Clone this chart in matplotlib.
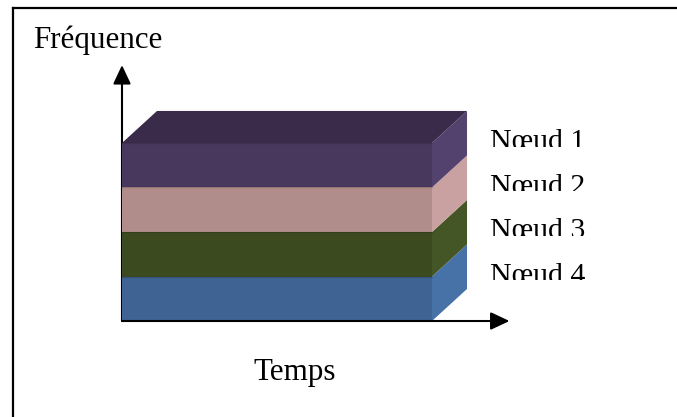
import matplotlib
matplotlib.use("Agg")
import matplotlib.pyplot as plt
from matplotlib.patches import Polygon, Rectangle
from matplotlib.lines import Line2D
from matplotlib.transforms import Bbox, TransformedBbox

# frequency bands shared by the nodes over time (top to bottom)
nodes = ["Nœud 1", "Nœud 2", "Nœud 3", "Nœud 4"]
band_height = [1, 1, 1, 1]
front_colors = ["#48385e", "#b08c8a", "#3c4a20", "#3f6393"]
side_colors = ["#54426e", "#c9a1a0", "#455626", "#4672a8"]
top_color = "#3b2b4a"
t_end = 10

# 3d depth of the slabs
dx, dy = 1.13, 0.72

plt.rcParams["font.family"] = ["Liberation Serif", "DejaVu Serif"]

fig = plt.figure(figsize=(6.77, 4.17), dpi=100)
ax = fig.add_axes([0.1802, 0.2302, 0.4579, 0.4269])
ax.set_xlim(0, t_end)
ax.set_ylim(0, sum(band_height))
ax.axis("off")

# vertical axis (behind the slabs)
ax.annotate("", xy=(0, 5.75), xytext=(0, 0),
            arrowprops=dict(arrowstyle="-|>,head_length=1.15,head_width=0.54",
                            mutation_scale=10, lw=1.5, color="black",
                            shrinkA=0, shrinkB=0),
            annotation_clip=False, zorder=1)

# stack from the bottom band upwards
y0 = 0
order = list(range(len(nodes)))[::-1]
for i in order:
    y1 = y0 + band_height[i]
    side = Polygon([(t_end, y0), (t_end + dx, y0 + dy), (t_end + dx, y1 + dy), (t_end, y1)],
                   closed=True, facecolor=side_colors[i], edgecolor="none",
                   clip_on=False, zorder=2)
    ax.add_patch(side)
    front = Rectangle((0, y0), t_end, band_height[i], facecolor=front_colors[i],
                      edgecolor=front_colors[i], lw=0, clip_on=False, zorder=3)
    ax.add_patch(front)
    ax.plot([0, t_end], [y1, y1], color="black", alpha=0.15, lw=1,
            clip_on=False, zorder=4)

    # node label beside its slab, cut just above the baseline
    ly = (y0 + y1) / 2 + dy / 2
    txt = ax.text(11.87, ly, nodes[i], fontsize=21.5, va="baseline", ha="left",
                  color="black", zorder=5)
    clip = TransformedBbox(Bbox([[11.5, ly + 0.056], [17.0, ly + 1.5]]), ax.transData)
    txt.set_clip_box(clip)
    txt.set_clip_on(True)
    y0 = y1

top = Polygon([(0, y0), (dx, y0 + dy), (t_end + dx, y0 + dy), (t_end, y0)],
              closed=True, facecolor=top_color, edgecolor="none",
              clip_on=False, zorder=2)
ax.add_patch(top)

# horizontal axis
ax.annotate("", xy=(12.5, 0), xytext=(0, 0),
            arrowprops=dict(arrowstyle="-|>,head_length=1.15,head_width=0.54",
                            mutation_scale=10, lw=1.5, color="black",
                            shrinkA=0, shrinkB=0),
            annotation_clip=False, zorder=6)

fig.text(33 / 677, 1 - 48 / 417, "Fréquence", fontsize=22.3, ha="left", va="baseline")
fig.text(295 / 677, 1 - 380 / 417, "Temps", fontsize=22.3, ha="center", va="baseline")

# frame (top and left edges)
fig.add_artist(Line2D([12.5 / 677, 1], [1 - 8 / 417, 1 - 8 / 417],
                      transform=fig.transFigure, color="black", lw=1.6))
fig.add_artist(Line2D([12.5 / 677, 12.5 / 677], [0, 1 - 8 / 417],
                      transform=fig.transFigure, color="black", lw=1.6))

fig.savefig("out.png", dpi=100)
